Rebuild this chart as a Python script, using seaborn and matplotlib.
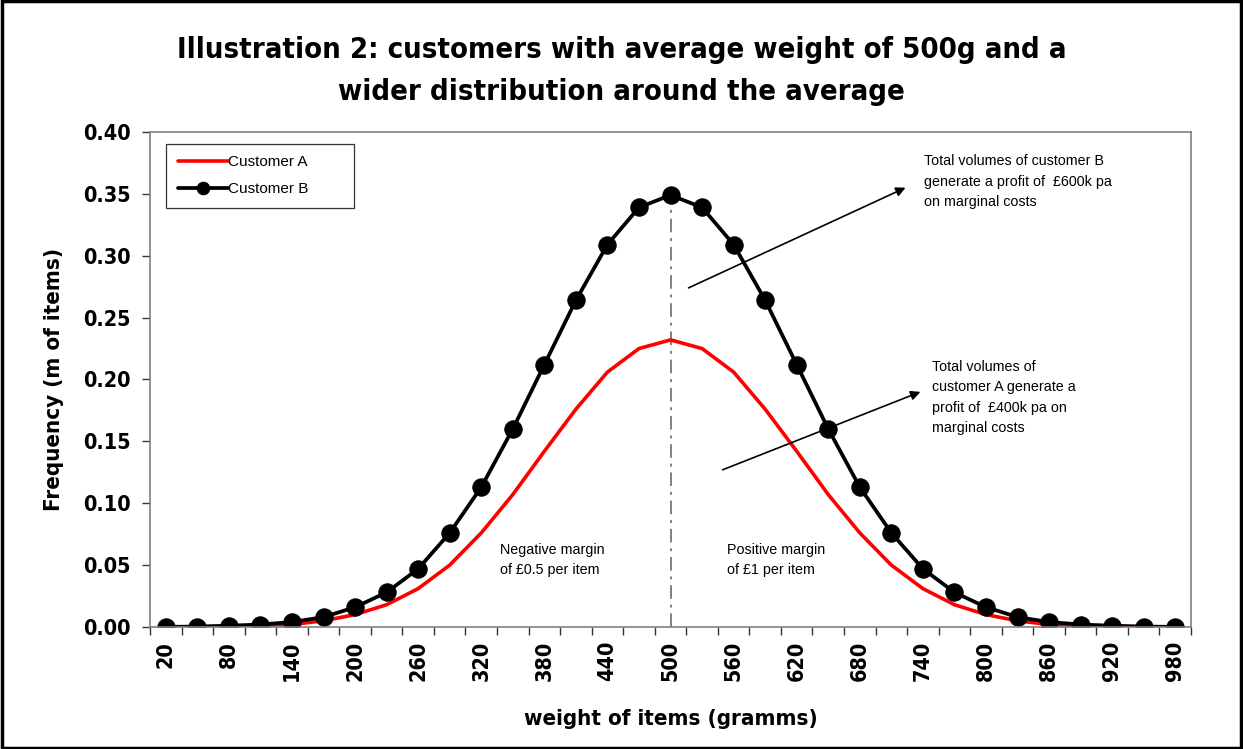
import numpy as np
import pandas as pd
import matplotlib
matplotlib.use("Agg")
import matplotlib.pyplot as plt
import seaborn as sns

weights = list(range(20, 981, 30))

customer_a = [0.0001, 0.0002, 0.0005, 0.001, 0.002, 0.005, 0.010, 0.018, 0.031, 0.050,
              0.076, 0.107, 0.142, 0.176, 0.206, 0.225, 0.232, 0.225, 0.206, 0.176,
              0.142, 0.107, 0.076, 0.050, 0.031, 0.018, 0.010, 0.005, 0.002, 0.001,
              0.0005, 0.0002, 0.0001]

customer_b = [0.0001, 0.0003, 0.001, 0.002, 0.004, 0.008, 0.016, 0.028, 0.047, 0.076,
              0.113, 0.160, 0.212, 0.264, 0.309, 0.339, 0.349, 0.339, 0.309, 0.264,
              0.212, 0.160, 0.113, 0.076, 0.047, 0.028, 0.016, 0.008, 0.004, 0.002,
              0.001, 0.0003, 0.0001]

TITLE = "Illustration 2: customers with average weight of 500g and a\nwider distribution around the average"
NOTE_B = "Total volumes of customer B\ngenerate a profit of  £600k pa\non marginal costs"
NOTE_A = "Total volumes of\ncustomer A generate a\nprofit of  £400k pa on\nmarginal costs"
NOTE_NEG = "Negative margin\nof £0.5 per item"
NOTE_POS = "Positive margin\nof £1 per item"

BOLD = dict(family="DejaVu Sans", fontweight="bold", fontstretch="condensed", color="black")


def main() -> None:
    sns.set_theme(style="white")
    plt.rcParams["font.family"] = ["DejaVu Sans"]
    plt.rcParams["text.color"] = "black"

    pos = np.arange(len(weights))
    df = pd.DataFrame({"pos": pos, "A": customer_a, "B": customer_b})

    fig = plt.figure(figsize=(12.43, 7.49), dpi=100)
    ax = fig.add_axes([0.1207, 0.1629, 0.8375, 0.6609])

    sns.lineplot(data=df, x="pos", y="A", ax=ax, color="#ff0000", linewidth=2.6,
                 label="Customer A", sort=False)
    sns.lineplot(data=df, x="pos", y="B", ax=ax, color="black", linewidth=2.7,
                 marker="o", markersize=12.5, markeredgecolor="black",
                 label="Customer B", sort=False)

    mid = weights.index(500)
    ax.vlines(mid, 0, customer_b[mid], colors="#808080", linestyles=(0, (7, 3, 1.5, 3)),
              linewidth=1.4, zorder=1)

    ax.set_xlim(-0.5, len(weights) - 0.5)
    ax.set_ylim(0, 0.4)
    yt = np.arange(0, 0.401, 0.05)
    ax.set_yticks(yt)
    ax.set_yticklabels([f"{v:.2f}" for v in yt], **BOLD, fontsize=15.5)
    ax.set_xticks(pos[::2])
    ax.set_xticklabels([str(w) for w in weights[::2]], rotation=90, **BOLD, fontsize=15.5)
    ax.set_xticks(np.arange(-0.5, len(weights), 1), minor=True)
    ax.tick_params(axis="x", which="major", length=0, pad=10)
    ax.tick_params(axis="x", which="minor", length=6, width=1, color="#333333",
                   direction="out", bottom=True)
    ax.tick_params(axis="y", length=6, width=1, color="#333333", direction="out",
                   left=True, pad=8)

    for sp in ax.spines.values():
        sp.set_color("#808080")
        sp.set_linewidth(1.2)

    ax.set_xlabel("weight of items (gramms)", **BOLD, fontsize=16, labelpad=20)
    ax.set_ylabel("Frequency (m of items)", **BOLD, fontsize=16, labelpad=14)
    fig.suptitle(TITLE, **BOLD, fontsize=21, y=0.952, linespacing=1.65)

    ax.annotate("", xy=(23.45, 0.355), xytext=(16.57, 0.274),
                arrowprops=dict(arrowstyle="-|>", color="black", lw=1.2,
                                mutation_scale=14, shrinkA=0, shrinkB=0))
    ax.annotate("", xy=(23.92, 0.190), xytext=(17.65, 0.127),
                arrowprops=dict(arrowstyle="-|>", color="black", lw=1.2,
                                mutation_scale=14, shrinkA=0, shrinkB=0))

    txt = dict(family="Liberation Sans", fontsize=10.3, va="top", ha="left",
               linespacing=1.6, color="black")
    ax.text(24.05, 0.382, NOTE_B, **txt)
    ax.text(24.3, 0.216, NOTE_A, **txt)
    ax.text(10.6, 0.068, NOTE_NEG, **txt)
    ax.text(17.78, 0.068, NOTE_POS, **txt)

    leg = ax.legend(loc="upper left", bbox_to_anchor=(0.0154, 0.976, 0.1806, 0.0),
                    mode="expand", borderaxespad=0.0,
                    prop=dict(family="Liberation Sans", size=11),
                    frameon=True, fancybox=False, edgecolor="black",
                    handlelength=3.3, handletextpad=0.0, borderpad=0.75,
                    labelspacing=0.85)
    leg.get_frame().set_linewidth(0.9)
    for t in leg.get_texts():
        t.set_color("black")
    for h in leg.legend_handles:
        h.set_markersize(9)

    fig.patches.append(plt.Rectangle((0.0015, 0.002), 0.997, 0.996,
                                     transform=fig.transFigure, fill=False,
                                     edgecolor="black", linewidth=2.5))

    fig.savefig("out.png", dpi=100)


if __name__ == "__main__":
    main()
